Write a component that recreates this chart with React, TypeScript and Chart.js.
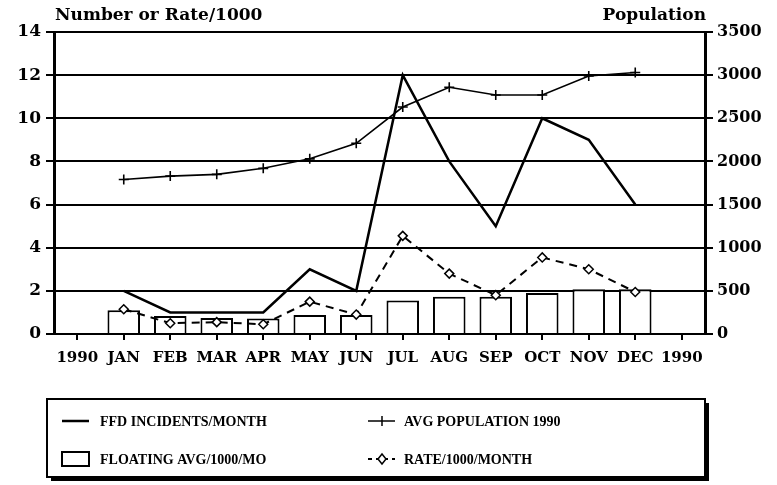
import React, { useEffect, useRef } from 'react';
import { Chart, registerables } from 'chart.js';

Chart.register(...registerables);

const categories = ['1990', 'JAN', 'FEB', 'MAR', 'APR', 'MAY', 'JUN', 'JUL', 'AUG', 'SEP', 'OCT', 'NOV', 'DEC', '1990'];
const ffdIncidents = [null, 2, 1, 1, 1, 3, 2, 12, 8, 5, 10, 9, 6, null];
const avgPopulation = [null, 1790, 1830, 1850, 1920, 2030, 2210, 2630, 2860, 2770, 2770, 2990, 3030, null];
const ratePer1000 = [null, 1.15, 0.5, 0.55, 0.45, 1.5, 0.9, 4.55, 2.8, 1.8, 3.55, 3.0, 1.95, null];
const floatingAvg = [null, 1.1, 0.83, 0.74, 0.72, 0.88, 0.88, 1.55, 1.73, 1.73, 1.9, 2.08, 2.08, null];

const leftTitle = 'Number or Rate/1000';
const rightTitle = 'Population';
const legendLabels = ['FFD INCIDENTS/MONTH', 'AVG POPULATION 1990', 'FLOATING AVG/1000/MO', 'RATE/1000/MONTH'];

const SERIF = '"DejaVu Serif", serif';
const LEGEND_FONT = 'bold 14px "Liberation Serif", serif';

const decorPlugin = {
  id: 'decor',
  afterDraw(chart: any) {
    const ctx = chart.ctx;
    const area = chart.chartArea;
    ctx.save();
    // axis titles
    ctx.fillStyle = '#000';
    ctx.font = `bold 17px ${SERIF}`;
    ctx.textBaseline = 'middle';
    ctx.textAlign = 'left';
    ctx.fillText(leftTitle, area.left + 1, 16);
    ctx.textAlign = 'right';
    ctx.fillText(rightTitle, area.right + 1, 16);

    // legend box with shadow
    const bx = 47, by = 399, bw = 658, bh = 78;
    ctx.fillStyle = '#000';
    ctx.fillRect(bx + 4, by + 4, bw, bh);
    ctx.fillStyle = '#fff';
    ctx.fillRect(bx, by, bw, bh);
    ctx.strokeStyle = '#000';
    ctx.lineWidth = 2;
    ctx.strokeRect(bx, by, bw, bh);

    const r1 = 421, r2 = 459;
    const c1 = 62, c2 = 368, sw = 27;
    ctx.font = LEGEND_FONT;
    ctx.textAlign = 'left';
    ctx.textBaseline = 'middle';
    ctx.fillStyle = '#000';

    // FFD incidents
    ctx.lineWidth = 2.5;
    ctx.setLineDash([]);
    ctx.beginPath(); ctx.moveTo(c1, r1); ctx.lineTo(c1 + sw, r1); ctx.stroke();
    ctx.fillText(legendLabels[0], 100, r1 + 1);

    // avg population
    ctx.lineWidth = 1.5;
    ctx.beginPath(); ctx.moveTo(c2, r1); ctx.lineTo(c2 + sw, r1); ctx.stroke();
    ctx.beginPath(); ctx.moveTo(c2 + 14, r1 - 5); ctx.lineTo(c2 + 14, r1 + 5); ctx.stroke();
    ctx.fillText(legendLabels[1], 404, r1 + 1);

    // floating avg
    ctx.lineWidth = 2;
    ctx.strokeRect(c1, r2 - 7, sw, 14);
    ctx.fillText(legendLabels[2], 100, r2 + 1);

    // rate
    ctx.lineWidth = 2;
    ctx.setLineDash([4, 4]);
    ctx.beginPath(); ctx.moveTo(c2, r2); ctx.lineTo(c2 + sw, r2); ctx.stroke();
    ctx.setLineDash([]);
    ctx.beginPath();
    ctx.moveTo(c2 + 14, r2 - 5); ctx.lineTo(c2 + 18, r2); ctx.lineTo(c2 + 14, r2 + 5); ctx.lineTo(c2 + 10, r2); ctx.closePath();
    ctx.fillStyle = '#fff'; ctx.fill(); ctx.lineWidth = 1.5; ctx.stroke();
    ctx.fillStyle = '#000';
    ctx.fillText(legendLabels[3], 404, r2 + 1);
    ctx.restore();
  },
};

export default function App() {
  const ref = useRef<HTMLCanvasElement>(null);

  useEffect(() => {
    const canvas = ref.current;
    if (!canvas) return;
    const chart = new Chart(canvas, {
      type: 'bar',
      data: {
        labels: categories,
        datasets: [
          {
            type: 'line',
            label: legendLabels[0],
            data: ffdIncidents,
            yAxisID: 'y',
            borderColor: '#000',
            borderWidth: 2.5,
            pointRadius: 0,
            tension: 0,
            order: 1,
          },
          {
            type: 'line',
            label: legendLabels[1],
            data: avgPopulation,
            yAxisID: 'y1',
            borderColor: '#000',
            borderWidth: 1.6,
            pointStyle: 'cross',
            pointRadius: 5,
            pointBorderWidth: 1.6,
            pointBorderColor: '#000',
            tension: 0,
            order: 2,
          },
          {
            type: 'line',
            label: legendLabels[3],
            data: ratePer1000,
            yAxisID: 'y',
            borderColor: '#000',
            borderWidth: 2,
            borderDash: [8, 6],
            pointStyle: 'rectRot',
            pointRadius: 4.5,
            pointBackgroundColor: '#fff',
            pointBorderColor: '#000',
            pointBorderWidth: 1.5,
            tension: 0,
            order: 3,
          },
          {
            type: 'bar',
            label: legendLabels[2],
            data: floatingAvg,
            yAxisID: 'y',
            backgroundColor: '#fff',
            borderColor: '#000',
            borderWidth: 2,
            barPercentage: 0.7,
            categoryPercentage: 1,
            order: 10,
          },
        ],
      },
      options: {
        responsive: false,
        animation: false,
        devicePixelRatio: 1,
        layout: { padding: { top: 32, left: 0, right: 0, bottom: 0 } },
        plugins: {
          legend: { display: false },
          tooltip: { enabled: false },
          title: { display: false },
        },
        scales: {
          x: {
            offset: true,
            grid: {
              display: true,
              offset: false,
              drawOnChartArea: false,
              drawTicks: true,
              tickLength: 6,
              color: '#000',
              lineWidth: 2,
            },
            border: { display: true, color: '#000', width: 2 },
            ticks: {
              color: '#000',
              font: { family: SERIF, size: 15, weight: 'bold' },
              padding: 9,
              maxRotation: 0,
              autoSkip: false,
            },
            afterFit: (scale: any) => { scale.height = 151; },
          },
          y: {
            position: 'left',
            min: 0,
            max: 14,
            ticks: {
              stepSize: 2,
              color: '#000',
              font: { family: SERIF, size: 17, weight: 'bold' },
              padding: 5,
            },
            grid: {
              color: '#000',
              lineWidth: 2,
              tickLength: 8,
              drawTicks: true,
            },
            border: { display: true, color: '#000', width: 3 },
            afterFit: (scale: any) => { scale.width = 54; },
          },
          y1: {
            position: 'right',
            min: 0,
            max: 3500,
            ticks: {
              stepSize: 500,
              color: '#000',
              font: { family: SERIF, size: 16, weight: 'bold' },
              padding: 4,
              callback: (v: any) => String(v),
            },
            grid: {
              drawOnChartArea: false,
              color: '#000',
              lineWidth: 2,
              tickLength: 8,
              drawTicks: true,
            },
            border: { display: true, color: '#000', width: 3 },
            afterFit: (scale: any) => { scale.width = 72; },
          },
        },
      },
      plugins: [decorPlugin],
    } as any);
    return () => chart.destroy();
  }, []);

  return (
    <div style={{ position: 'absolute', left: 0, top: 0, width: 777, height: 485, background: '#fff' }}>
      <canvas ref={ref} width={777} height={485} style={{ display: 'block', width: 777, height: 485 }} />
    </div>
  );
}
